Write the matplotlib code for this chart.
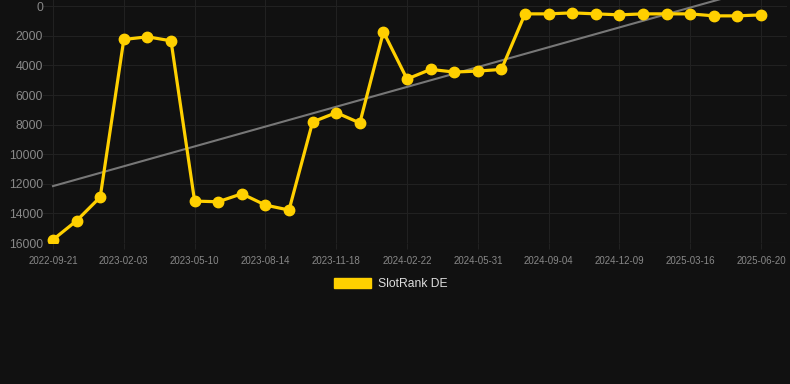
import numpy as np
import matplotlib
matplotlib.use('Agg')
from matplotlib import pyplot as plt

# SlotRank DE rank over time (lower is better, so y is inverted)
ranks = [15775, 14494, 12899, 2247, 2067, 2337, 13169, 13213, 12674, 13438,
         13775, 7820, 7191, 7888, 1730, 4921, 4270, 4449, 4382, 4270,
         517, 517, 449, 517, 584, 517, 517, 517, 652, 652, 584]
tick_labels = ['2022-09-21', '2023-02-03', '2023-05-10', '2023-08-14', '2023-11-18',
               '2024-02-22', '2024-05-31', '2024-09-04', '2024-12-09', '2025-03-16',
               '2025-06-20']
y_ticks = [0, 2000, 4000, 6000, 8000, 10000, 12000, 14000, 16000]

bg = '#111111'
yellow = '#FFD000'

plt.rcParams['font.family'] = ['Liberation Sans', 'DejaVu Sans']

fig = plt.figure(figsize=(7.9, 3.84), dpi=100, facecolor=bg)
ax = fig.add_axes([43 / 790, 1 - 243 / 384, 744 / 790, 243 / 384])
ax.set_facecolor(bg)

x = np.arange(len(ranks))

# trend line (linear fit)
slope, intercept = np.polyfit(x, ranks, 1)
ax.plot(x, slope * x + intercept, color='#777777', linewidth=1.5, zorder=2)

ax.plot(x, ranks, color=yellow, linewidth=2.3, marker='o', markersize=7.5,
        label='SlotRank DE', zorder=3)

ax.set_ylim(16000, -420)
ax.set_xlim(-0.424, 31.1)
ax.set_yticks(y_ticks)
ax.set_yticklabels([str(v) for v in y_ticks])
ax.set_xticks(x[::3])
ax.set_xticklabels(tick_labels)

ax.grid(True, color='#212121', linewidth=0.8)
ax.set_axisbelow(True)
for s in ax.spines.values():
    s.set_visible(False)
ax.tick_params(axis='y', colors='#888888', labelsize=8.8, length=0, pad=0)
ax.tick_params(axis='x', colors='#888888', labelsize=7, length=4, width=0.8,
               pad=5, color='#212121')
ax.axhline(16000, color='#2c2c2c', linewidth=0.8, zorder=1)

leg = fig.legend(handles=[plt.Rectangle((0, 0), 1, 1, color=yellow)],
                 labels=['SlotRank DE'], loc='center', bbox_to_anchor=(0.495, 1 - 284 / 384),
                 frameon=False, fontsize=8.7, handlelength=3.0, handleheight=0.85,
                 handletextpad=0.6)
for t in leg.get_texts():
    t.set_color('#dddddd')

fig.savefig('out.png', dpi=100, facecolor=bg)
